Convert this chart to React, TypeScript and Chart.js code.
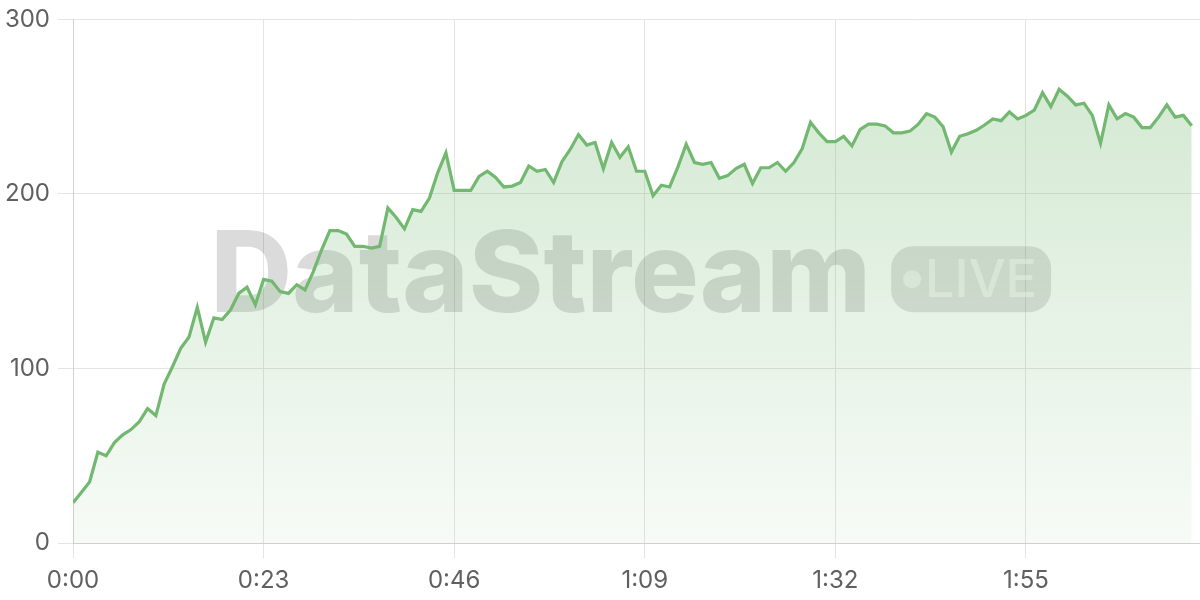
import React, { useEffect, useRef } from "react";
import { Chart, registerables } from "chart.js";

Chart.register(...registerables);

// elapsed seconds (x positions) and measured values
const seconds: number[] = Array.from({ length: 136 }, (_, i) => i);
const values: number[] = [
  23, 29, 35, 52, 50, 57.5, 62, 65, 69.5, 77,
  73, 91, 101, 111.5, 118, 135, 115, 129, 128, 133.5,
  143, 146.5, 136.5, 151, 150, 144, 143, 148, 145, 155.5,
  168, 179, 179, 177, 170, 170, 169, 170, 192, 186.5,
  180, 191, 190, 197.5, 212, 223.5, 202, 202, 202, 210,
  213, 209.5, 204, 204.5, 206.5, 216, 213, 214, 206.5, 218.5,
  225.5, 234, 228, 229.5, 214.5, 229.5, 221, 227, 213, 213,
  199, 205, 204, 215.5, 228.5, 218, 217, 218, 209, 210.5,
  214.5, 217, 206, 215, 215, 218, 213, 218, 226, 241,
  235, 230, 230, 233, 227.5, 237, 240, 240, 239, 235,
  235, 236, 240, 246, 244, 238.5, 224, 233, 234.5, 236.5,
  239.5, 243, 242, 247, 243, 245, 248, 258, 250, 260,
  256, 251, 252, 245, 229, 251, 243, 246, 244, 238,
  238, 244, 251, 244, 245, 239,
];
const yTicks: number[] = [0, 100, 200, 300];
const xTickStep = 23;
const watermarkTitle = "DataStream";
const watermarkBadge = "LIVE";

const fmt = (s: number) => {
  const m = Math.floor(s / 60);
  const r = Math.round(s % 60);
  return `${m}:${r < 10 ? "0" : ""}${r}`;
};

const watermarkPlugin = {
  id: "watermark",
  beforeDatasetsDraw(chart: any) {
    const { ctx, chartArea } = chart;
    const cx = (chartArea.left + chartArea.right) / 2;
    const cy = (chartArea.top + chartArea.bottom) / 2;
    ctx.save();
    ctx.font = "800 113px Inter";
    ctx.textBaseline = "alphabetic";
    ctx.textAlign = "left";
    const w = ctx.measureText(watermarkTitle).width;
    const left = cx - 426;
    const base = cy + 31;
    ctx.fillStyle = "rgba(0,0,0,0.14)";
    ctx.fillText(watermarkTitle, left, base);
    // badge
    const bx = left + w + 20;
    const bw = 160;
    const bh = 66;
    const by = base - bh;
    ctx.beginPath();
    (ctx as any).roundRect(bx, by, bw, bh, 22);
    ctx.fillStyle = "rgba(0,0,0,0.12)";
    ctx.fill();
    ctx.fillStyle = "rgba(255,255,255,0.55)";
    ctx.beginPath();
    ctx.arc(bx + 21, by + bh / 2, 9, 0, Math.PI * 2);
    ctx.fill();
    ctx.font = "500 52px Inter";
    ctx.textBaseline = "middle";
    ctx.fillText(watermarkBadge, bx + 34, by + bh / 2 + 2);
    ctx.restore();
  },
};

export default function App() {
  const ref = useRef<HTMLCanvasElement | null>(null);
  useEffect(() => {
    document.body.style.margin = "0";
    const canvas = ref.current!;
    const chart = new Chart(canvas, {
      type: "line",
      data: {
        labels: seconds,
        datasets: [
          {
            data: values,
            borderColor: "rgb(114,184,112)",
            borderWidth: 3.2,
            pointRadius: 0,
            tension: 0,
            fill: "origin",
            backgroundColor: (c: any) => {
              const area = c.chart.chartArea;
              if (!area) return "rgba(114,184,112,0.2)";
              const g = c.chart.ctx.createLinearGradient(0, area.top, 0, area.bottom);
              g.addColorStop(0, "rgba(114,184,112,0.34)");
              g.addColorStop(1, "rgba(114,184,112,0.06)");
              return g;
            },
          },
        ],
      },
      options: {
        responsive: false,
        animation: false,
        maintainAspectRatio: false,
        layout: { padding: { top: 0, left: 0, right: 0, bottom: 0 } },
        plugins: { legend: { display: false }, tooltip: { enabled: false } },
        scales: {
          x: {
            type: "linear",
            min: 0,
            max: 136,
            afterFit: (s: any) => {
              s.height = 57;
            },
            ticks: {
              stepSize: xTickStep,
              includeBounds: false,
              padding: 8,
              color: "#606060",
              font: { family: "Inter", size: 24 },
              callback: (v: any) => fmt(Number(v)),
              maxRotation: 0,
            },
            grid: { color: "#e4e4e4", tickLength: 15 },
            border: { color: "#d0d0d0" },
          },
          y: {
            min: 0,
            max: 300,
            afterFit: (s: any) => {
              s.width = 73;
            },
            afterBuildTicks: (s: any) => {
              s.ticks = yTicks.map((v) => ({ value: v }));
            },
            ticks: {
              padding: 8,
              color: "#606060",
              font: { family: "Inter", size: 24, lineHeight: 0.95 },
            },
            grid: { color: "#e4e4e4", tickLength: 15 },
            border: { color: "#d0d0d0" },
          },
        },
      },
      plugins: [watermarkPlugin],
    } as any);
    return () => chart.destroy();
  }, []);
  return (
    <div style={{ position: "fixed", left: 0, top: 0, width: 1200, height: 600 }}>
      <canvas ref={ref} width={1200} height={600} style={{ width: 1200, height: 600 }} />
    </div>
  );
}
